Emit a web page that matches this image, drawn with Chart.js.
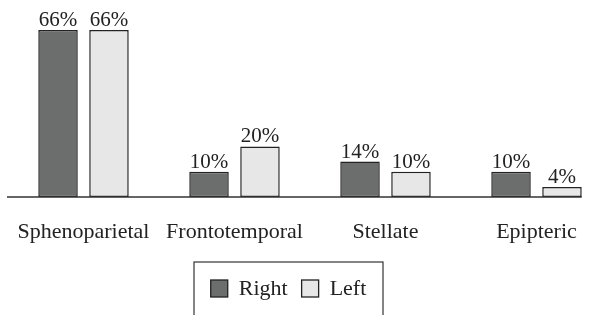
<!DOCTYPE html>
<html>
<head>
<meta charset="utf-8">
<script src="https://cdn.jsdelivr.net/npm/chart.js@4.4.1/dist/chart.umd.min.js"></script>
<style>
  html, body { margin: 0; padding: 0; background: #fff; overflow: hidden; }
  #wrap { width: 607px; height: 315px; overflow: hidden; }
</style>
</head>
<body>
<div id="wrap"><canvas id="chart" width="612" height="315"></canvas></div>
<script>
// data
const categories = ["Sphenoparietal", "Frontotemporal", "Stellate", "Epipteric"];
const rightValues = [66, 10, 14, 10];
const leftValues = [66, 20, 10, 4];
const seriesNames = ["Right", "Left"];

const FONT = "'Liberation Serif', 'DejaVu Serif', serif";

// value labels above bars
const valueLabels = {
    id: "valueLabels",
    afterDatasetsDraw: (chart) => {
        const { ctx } = chart;
        ctx.save();
        ctx.font = "21px " + FONT;
        ctx.fillStyle = "#222";
        ctx.textAlign = "center";
        ctx.textBaseline = "alphabetic";
        chart.data.datasets.forEach((ds, di) => {
            chart.getDatasetMeta(di).data.forEach((bar, i) => {
                ctx.fillText(ds.data[i] + "%", bar.x, bar.y - 4);
            });
        });
        ctx.restore();
    },
};

// baseline, from the left edge of the plot to the end of the last bar
const baseLine = {
    id: "baseLine",
    afterDatasetsDraw: (chart) => {
        const { ctx, chartArea } = chart;
        const metas = chart.data.datasets.map((d, i) => chart.getDatasetMeta(i));
        const last = metas[metas.length - 1].data;
        const lastBar = last[last.length - 1];
        const endX = lastBar.x + lastBar.width / 2;
        ctx.save();
        ctx.strokeStyle = "#333";
        ctx.lineWidth = 1.5;
        ctx.beginPath();
        ctx.moveTo(chartArea.left - 1, chartArea.bottom);
        ctx.lineTo(endX, chartArea.bottom);
        ctx.stroke();
        ctx.restore();
    },
};

// boxed legend under the chart
const boxLegend = {
    id: "boxLegend",
    afterDraw: (chart) => {
        const { ctx } = chart;
        const box = { x: 194, y: 262, w: 189, h: 70 };
        const sw = 17, gapText = 11, gapItem = 14;
        ctx.save();
        ctx.strokeStyle = "#333";
        ctx.lineWidth = 1.2;
        ctx.strokeRect(box.x, box.y, box.w, box.h);
        ctx.font = "22px " + FONT;
        const items = chart.data.datasets.map(ds => ({
            text: ds.label, color: ds.backgroundColor, w: ctx.measureText(ds.label).width,
        }));
        let total = items.reduce((s, it) => s + sw + gapText + it.w, 0) + gapItem * (items.length - 1);
        let x = box.x + (box.w - total) / 2;
        const cy = 288.5;
        items.forEach(it => {
            ctx.fillStyle = it.color;
            ctx.fillRect(x, cy - sw / 2, sw, sw);
            ctx.strokeStyle = "#222";
            ctx.lineWidth = 1.3;
            ctx.strokeRect(x, cy - sw / 2, sw, sw);
            ctx.fillStyle = "#222";
            ctx.textAlign = "left";
            ctx.textBaseline = "middle";
            ctx.fillText(it.text, x + sw + gapText, cy + 1);
            x += sw + gapText + it.w + gapItem;
        });
        ctx.restore();
    },
};

new Chart(document.getElementById("chart"), {
    type: "bar",
    plugins: [valueLabels, baseLine, boxLegend],
    data: {
        labels: categories,
        datasets: [
            {
                label: seriesNames[0],
                data: rightValues,
                backgroundColor: "#6c6d6d",
                borderColor: "#222",
                borderWidth: 1.5,
                borderSkipped: false,
            },
            {
                label: seriesNames[1],
                data: leftValues,
                backgroundColor: "#e6e7e6",
                borderColor: "#222",
                borderWidth: 1.5,
                borderSkipped: false,
            },
        ],
    },
    options: {
        responsive: false,
        animation: false,
        layout: { padding: { top: 20, left: 8, right: 0, bottom: 0 } },
        datasets: { bar: { categoryPercentage: 0.675, barPercentage: 0.775 } },
        plugins: { legend: { display: false }, tooltip: { enabled: false } },
        scales: {
            x: {
                grid: { display: false, drawTicks: false },
                border: { display: false },
                ticks: { color: "#222", font: { family: FONT, size: 22 }, padding: 22, maxRotation: 0, autoSkip: false },
                afterFit: (s) => {
                    s.height = 118;
                    s.paddingLeft = 0;
                    s.paddingRight = 0;
                },
            },
            y: {
                display: false,
                min: 0,
                max: 70,
            },
        },
    },
});
</script>
</body>
</html>
